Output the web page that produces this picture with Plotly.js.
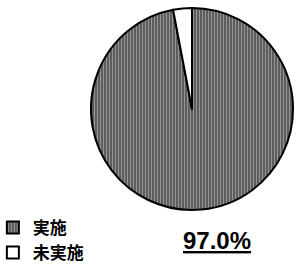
<!DOCTYPE html>
<html><head><meta charset="utf-8">
<script src="https://cdn.plot.ly/plotly-3.0.1.min.js"></script>
<style>html,body{margin:0;padding:0;background:#fff}</style>
</head><body><div id="chart" style="width:297px;height:265px"></div>
<script>
const labels = ['実施', '未実施'];
const values = [97, 3];
const colors = ['#808080', '#ffffff'];

const pct = (values[0] / values.reduce((a, b) => a + b, 0) * 100).toFixed(1) + '%';

const trace = {
  type: 'pie',
  labels: labels,
  values: values,
  sort: false,
  direction: 'clockwise',
  rotation: 0,
  textinfo: 'none',
  hoverinfo: 'none',
  marker: {
    colors: colors,
    line: {color: '#000', width: 2},
    pattern: {shape: ['|', ''], fgcolor: ['#e0e0e0', '#fff'], bgcolor: ['#4a4a4a', '#fff'], size: 3, solidity: 0.5, fillmode: 'overlay'}
  },
  domain: {x: [0.296, 0.997], y: [0.2075, 0.97]}
};

const layout = {
  width: 297, height: 265,
  margin: {l: 0, r: 0, t: 0, b: 0, autoexpand: false},
  paper_bgcolor: '#fff',
  showlegend: true,
  legend: {
    x: -0.024, y: 0.208, xanchor: 'left', yanchor: 'top',
    font: {family: 'Noto Sans CJK JP', size: 17, color: '#000', weight: 'bold'},
    itemwidth: 30, tracegroupgap: 0, bgcolor: 'rgba(0,0,0,0)'
  },
  annotations: [{
    text: '<span style="text-decoration:underline">' + pct + '</span>',
    xref: 'paper', yref: 'paper', x: 0.732, y: 0.094,
    xanchor: 'center', yanchor: 'middle', showarrow: false,
    font: {family: 'Liberation Sans', size: 24, color: '#000', weight: 'bold'}
  }]
};

Plotly.newPlot('chart', [trace], layout, {displayModeBar: false, staticPlot: true});
</script></body></html>
